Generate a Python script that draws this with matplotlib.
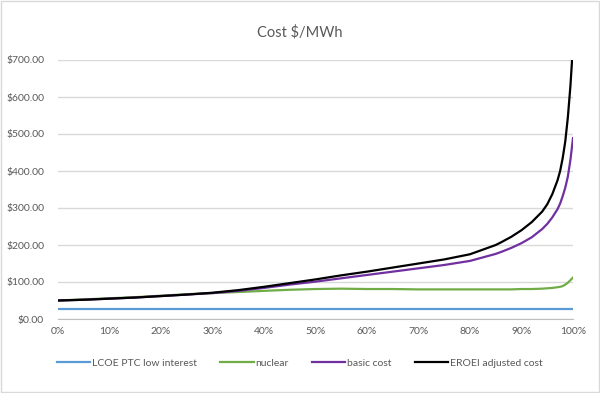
import matplotlib.pyplot as plt
from matplotlib.ticker import FuncFormatter, PercentFormatter
from matplotlib.patches import Rectangle

plt.rcParams['font.family'] = ['Lato', 'DejaVu Sans']

# share of supply (%)
share = [0, 5, 10, 15, 20, 25, 30, 35, 40, 45, 50, 55, 60, 65, 70, 75, 80,
         85, 86, 88, 90, 92, 94, 95, 96, 97, 97.5, 98, 98.5, 99, 99.5, 100]

lcoe_ptc = [28] * len(share)
nuclear = [50, 53, 56, 59, 63, 67, 70, 73, 76, 79, 81, 82, 81, 81, 80, 80, 80,
           80, 80, 80, 81, 81, 82, 83, 84, 86, 87, 89, 93, 98, 105, 112]
basic_cost = [50, 52, 55, 58, 62, 66, 70, 76, 84, 93, 101, 110, 119, 128, 137, 146, 157,
              176, 181, 192, 205, 221, 243, 257, 275, 297, 312, 332, 355, 385, 430, 489]
eroei_cost = [50, 52, 55, 58, 62, 66, 71, 78, 87, 97, 107, 118, 128, 139, 150, 161, 175,
              200, 207, 222, 240, 262, 290, 310, 338, 375, 400, 435, 480, 545, 630, 740]

fig = plt.figure(figsize=(6, 3.93), dpi=100)
ax = fig.add_axes([58 / 600, 1 - 319 / 393, 515 / 600, 259 / 393])

ax.plot(share, lcoe_ptc, color='#5B9BD5', lw=1.6, label='LCOE PTC low interest')
ax.plot(share, nuclear, color='#70AD47', lw=1.6, label='nuclear')
ax.plot(share, basic_cost, color='#7030A0', lw=1.6, label='basic cost')
ax.plot(share, eroei_cost, color='#000000', lw=1.6, label='EROEI adjusted cost')

ax.set_xlim(0, 100)
ax.set_ylim(0, 700)
ax.set_xticks(range(0, 101, 10))
ax.set_yticks(range(0, 701, 100))
ax.xaxis.set_major_formatter(PercentFormatter(decimals=0))
ax.yaxis.set_major_formatter(FuncFormatter(lambda v, p: f'${v:,.2f}'))
ax.grid(axis='y', color='#D9D9D9', lw=1)
ax.set_axisbelow(True)
for s in ['top', 'right', 'left']:
    ax.spines[s].set_visible(False)
ax.spines['bottom'].set_color('#BFBFBF')
ax.tick_params(length=0, labelsize=7.5, colors='#595959', pad=6)
ax.tick_params(axis='y', pad=10)

fig.text(0.5, 1 - 32 / 393, 'Cost $/MWh', ha='center', va='center',
         fontsize=10.5, color='#595959')

fig.legend(loc='center', bbox_to_anchor=(0.5, 1 - 363 / 393), ncol=4,
           frameon=False, fontsize=7.5, handlelength=3.2, columnspacing=2.2,
           labelcolor='#595959', handletextpad=0.2)

fig.patches.append(Rectangle((0.002, 0.003), 0.996, 0.994, transform=fig.transFigure,
                             fill=False, edgecolor='#D9D9D9', lw=1))

fig.savefig('out.png', dpi=100)
